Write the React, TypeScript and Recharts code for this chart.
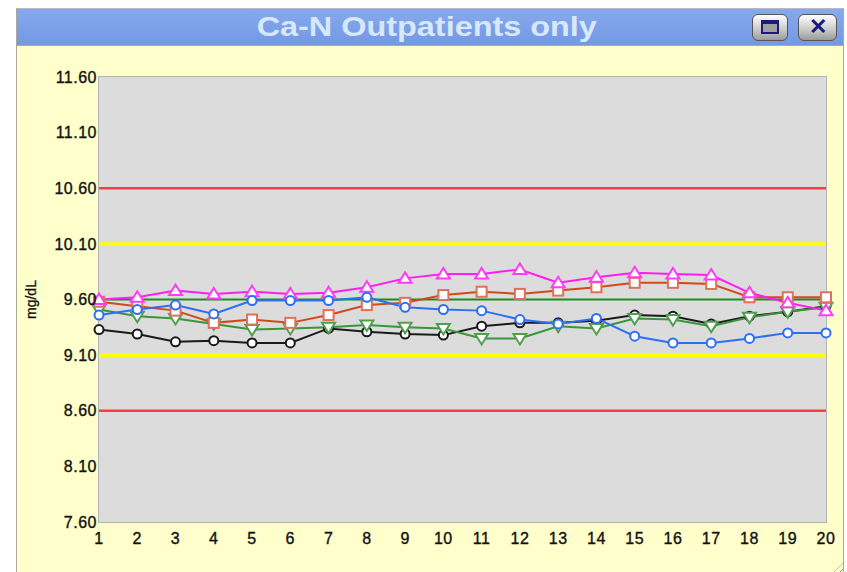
import React from 'react';
import { LineChart, Line, XAxis, YAxis, CartesianGrid, ReferenceLine } from 'recharts';

const days = [1, 2, 3, 4, 5, 6, 7, 8, 9, 10, 11, 12, 13, 14, 15, 16, 17, 18, 19, 20];
const blackVals = [9.33, 9.29, 9.22, 9.23, 9.21, 9.21, 9.34, 9.31, 9.29, 9.28, 9.36, 9.39, 9.39, 9.41, 9.46, 9.45, 9.38, 9.45, 9.49, 9.54];
const greenVals = [9.51, 9.45, 9.43, 9.38, 9.33, 9.34, 9.35, 9.37, 9.35, 9.34, 9.25, 9.25, 9.36, 9.34, 9.43, 9.42, 9.36, 9.44, 9.49, 9.53];
const redVals = [9.58, 9.54, 9.5, 9.39, 9.42, 9.39, 9.46, 9.55, 9.57, 9.64, 9.67, 9.65, 9.68, 9.71, 9.75, 9.75, 9.74, 9.62, 9.62, 9.62];
const magentaVals = [9.6, 9.62, 9.68, 9.65, 9.67, 9.65, 9.66, 9.71, 9.79, 9.83, 9.83, 9.87, 9.75, 9.8, 9.84, 9.83, 9.82, 9.66, 9.57, 9.5];
const blueVals = [9.46, 9.51, 9.55, 9.47, 9.59, 9.59, 9.59, 9.62, 9.53, 9.51, 9.5, 9.42, 9.38, 9.43, 9.27, 9.21, 9.21, 9.25, 9.3, 9.3];
const yTicks = [7.6, 8.1, 8.6, 9.1, 9.6, 10.1, 10.6, 11.1, 11.6];
const targetLine = 9.6;
const warnLines = [9.1, 10.1];
const alarmLines = [8.6, 10.6];

const data = days.map((d, i) => ({
  day: d,
  black: blackVals[i],
  green: greenVals[i],
  red: redVals[i],
  magenta: magentaVals[i],
  blue: blueVals[i],
}));

const FONT = '"Liberation Sans", Arial, sans-serif';

const circleDot = (color: string) => (p: any) => (
  <circle key={p.key} cx={p.cx} cy={p.cy} r={4.5} fill="#ffffff" stroke={color} strokeWidth={2} />
);
const squareDot = (color: string) => (p: any) => (
  <rect key={p.key} x={p.cx - 5} y={p.cy - 5} width={10} height={10} fill="#ffffff" stroke={color} strokeWidth={2} />
);
const triUpDot = (color: string) => (p: any) => (
  <polygon
    key={p.key}
    points={`${p.cx},${p.cy - 6} ${p.cx + 6.5},${p.cy + 4.5} ${p.cx - 6.5},${p.cy + 4.5}`}
    fill="#ffffff"
    stroke={color}
    strokeWidth={2}
  />
);
const triDownDot = (color: string) => (p: any) => (
  <polygon
    key={p.key}
    points={`${p.cx},${p.cy + 6} ${p.cx + 6.5},${p.cy - 4.5} ${p.cx - 6.5},${p.cy - 4.5}`}
    fill="#ffffff"
    stroke={color}
    strokeWidth={2}
  />
);

const YLabel = (props: any) => {
  const vb = props.viewBox || { y: 77, height: 445 };
  const cy = vb.y + vb.height / 2;
  return (
    <text x={36} y={cy} transform={`rotate(-90 36 ${cy})`} textAnchor="middle" fontSize={14} fill="#111" stroke="#111" strokeWidth={0.3} fontFamily={FONT}>
      mg/dL
    </text>
  );
};

const tickStyle = { fontSize: 16, fill: '#111', stroke: '#111', strokeWidth: 0.35, letterSpacing: 0.5, fontFamily: FONT };

export default function App() {
  return (
    <div style={{ position: 'absolute', left: 0, top: 0, width: 847, height: 572, overflow: 'hidden', background: '#ffffff' }}>
      <div
        style={{
          position: 'absolute',
          left: 16,
          top: 8,
          width: 826,
          height: 570,
          background: '#ffffcc',
          borderLeft: '1px solid #a9a99a',
          borderRight: '1px solid #a9a99a',
          borderTop: '1px solid #b8b8c8',
        }}
      >
        <div
          style={{
            position: 'absolute',
            left: 0,
            top: 0,
            width: 826,
            height: 36,
            background: 'linear-gradient(#87a9ee, #7299e3)',
            borderBottom: '1px solid #a8aab0',
          }}
        >
          <div
            style={{
              position: 'absolute',
              left: 0,
              top: 0,
              width: 826,
              height: 36,
              display: 'flex',
              alignItems: 'center',
              justifyContent: 'center',
            }}
          >
            <span
              style={{
                display: 'inline-block',
                transform: 'scaleX(1.2)',
                marginLeft: -6,
                fontFamily: FONT,
                fontWeight: 'bold',
                fontSize: 27,
                color: '#d8e8fb',
              }}
            >
              Ca-N Outpatients only
            </span>
          </div>
          <div
            style={{
              position: 'absolute',
              left: 735,
              top: 5,
              width: 36,
              height: 27,
              borderRadius: 6,
              border: '1px solid #555',
              background: 'linear-gradient(#ffffff, #c8c8c8 60%, #9a9a9a)',
              boxSizing: 'border-box',
            }}
          >
            <div
              style={{
                position: 'absolute',
                left: 8,
                top: 5,
                width: 18,
                height: 14,
                border: '2px solid #1a1a7a',
                borderTopWidth: 4,
                background: '#a0a0a0',
                boxSizing: 'border-box',
              }}
            />
          </div>
          <div
            style={{
              position: 'absolute',
              left: 781,
              top: 5,
              width: 39,
              height: 27,
              borderRadius: 6,
              border: '1px solid #555',
              background: 'linear-gradient(#ffffff, #c8c8c8 60%, #9a9a9a)',
              boxSizing: 'border-box',
              textAlign: 'center',
              lineHeight: '24px',
              fontFamily: FONT,
              fontWeight: 'bold',
              fontSize: 22,
              color: '#1a1a7a',
            }}
          >
            ✕
          </div>
        </div>
        <div
          style={{
            position: 'absolute',
            right: 0,
            bottom: 0,
            width: 16,
            height: 16,
            background: 'repeating-linear-gradient(135deg, transparent 0px, transparent 3px, #8a8a8a 3px, #8a8a8a 4px)',
            clipPath: 'polygon(100% 0, 100% 100%, 0 100%)',
          }}
        />
      </div>
      <div
        style={{
          position: 'absolute',
          left: 98,
          top: 76,
          width: 729,
          height: 447,
          border: '1px solid #b4b4b4',
          boxSizing: 'border-box',
        }}
      />
      <div style={{ position: 'absolute', left: 0, top: 0 }}>
        <LineChart width={847} height={572} data={data} margin={{ top: 77, right: 21, bottom: 20, left: 0 }}>
          <CartesianGrid fill="#dcdcdc" horizontal={false} vertical={false} />
          <XAxis
            dataKey="day"
            type="number"
            domain={[1, 20]}
            ticks={days}
            axisLine={false}
            tickLine={false}
            tickSize={0}
            tickMargin={11}
            height={30}
            interval={0}
            tick={tickStyle}
          />
          <YAxis
            type="number"
            domain={[7.6, 11.6]}
            ticks={yTicks}
            width={99}
            axisLine={false}
            tickLine={false}
            tickSize={0}
            tickMargin={2}
            interval={0}
            tickFormatter={(v: number) => v.toFixed(2)}
            tick={tickStyle}
            label={<YLabel />}
          />
          {alarmLines.map((v) => (
            <ReferenceLine key={`a${v}`} y={v} stroke="#ff3b3b" strokeWidth={2.5} />
          ))}
          {warnLines.map((v) => (
            <ReferenceLine key={`w${v}`} y={v} stroke="#ffff00" strokeWidth={3.5} />
          ))}
          <ReferenceLine y={targetLine} stroke="#1f8a1f" strokeWidth={2} />
          <Line dataKey="black" stroke="#1a1a1a" strokeWidth={2} dot={circleDot('#1a1a1a')} isAnimationActive={false} />
          <Line dataKey="green" stroke="#3a963a" strokeWidth={2} dot={triDownDot('#4f9f4f')} isAnimationActive={false} />
          <Line dataKey="red" stroke="#d24a1c" strokeWidth={2} dot={squareDot('#e0705c')} isAnimationActive={false} />
          <Line dataKey="magenta" stroke="#ff1ef0" strokeWidth={2} dot={triUpDot('#ff3cf5')} isAnimationActive={false} />
          <Line dataKey="blue" stroke="#2c6ff5" strokeWidth={2} dot={circleDot('#2c6ff5')} isAnimationActive={false} />
        </LineChart>
      </div>
    </div>
  );
}
